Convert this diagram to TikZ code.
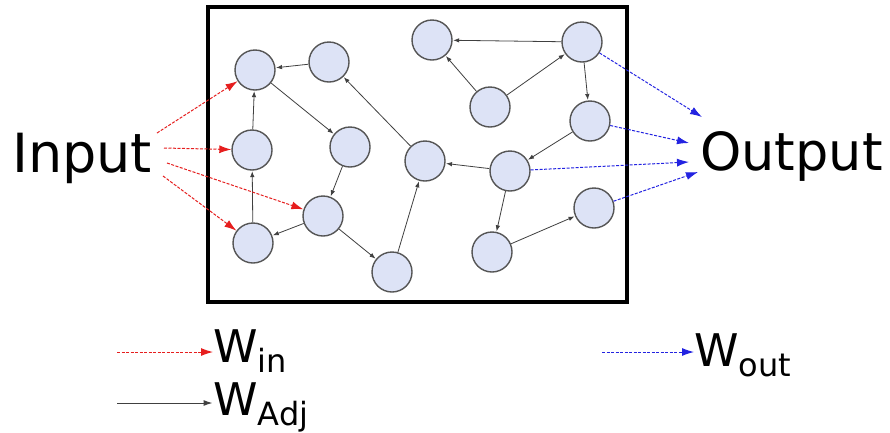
\documentclass[tikz,border=0pt]{standalone}
\usepackage{fontspec}
\setmainfont{DejaVu Sans}
\usetikzlibrary{arrows.meta}
\definecolor{nodefill}{RGB}{221,227,246}
\definecolor{nodeline}{RGB}{85,85,85}
\definecolor{inred}{RGB}{230,30,30}
\definecolor{outblue}{RGB}{35,35,225}
\tikzset{
  neuron/.style={circle, minimum size=40pt, inner sep=0pt, draw=nodeline, line width=1.4pt, fill=nodefill},
  adj/.style={draw=black!75, line width=0.8pt, -{Latex[length=6pt,width=4.5pt]}, shorten >=0.5pt},
  win/.style={draw=inred, line width=1pt, dash pattern=on 3pt off 1.5pt, -{Latex[length=12pt,width=8pt]}},
  wout/.style={draw=outblue, line width=1pt, dash pattern=on 3pt off 1.5pt, -{Latex[length=12pt,width=8pt]}},
  bigtext/.style={anchor=base west, inner sep=0pt, font=\fontsize{54}{60}\selectfont},
  legtext/.style={anchor=base west, inner sep=0pt, font=\fontsize{45}{50}\selectfont}
}
\newcommand{\legsub}[1]{\raisebox{-10pt}{\fontsize{32}{34}\selectfont #1}}
\begin{document}
\begin{tikzpicture}[x=1pt,y=-1pt]
\useasboundingbox (0,0) rectangle (890,432);
\fill[white] (0,0) rectangle (890,432);
\draw[line width=3.5pt] (208,7) rectangle (627,302);
% neurons
\node[neuron] (A) at (255,70) {};
\node[neuron] (B) at (329,62) {};
\node[neuron] (C) at (252,150) {};
\node[neuron] (D) at (350,147) {};
\node[neuron] (E) at (323,216) {};
\node[neuron] (F) at (253,243) {};
\node[neuron] (G) at (392,272) {};
\node[neuron] (H) at (425,161) {};
\node[neuron] (I) at (432,40) {};
\node[neuron] (J) at (490,107) {};
\node[neuron] (K) at (582,42) {};
\node[neuron] (L) at (590,121) {};
\node[neuron] (M) at (510,171) {};
\node[neuron] (N) at (594,208) {};
\node[neuron] (O) at (492,252) {};
% adjacency
\draw[adj] (B) -- (A);
\draw[adj] (C) -- (A);
\draw[adj] (A) -- (D);
\draw[adj] (D) -- (E);
\draw[adj] (E) -- (F);
\draw[adj] (F) -- (C);
\draw[adj] (E) -- (G);
\draw[adj] (G) -- (H);
\draw[adj] (H) -- (B);
\draw[adj] (J) -- (I);
\draw[adj] (K) -- (I);
\draw[adj] (J) -- (K);
\draw[adj] (K) -- (L);
\draw[adj] (L) -- (M);
\draw[adj] (M) -- (H);
\draw[adj] (M) -- (O);
\draw[adj] (O) -- (N);
% input / output
\node[bigtext] (in) at (12,172) {Input};
\node[bigtext, font=\fontsize{52.5}{60}\selectfont] (out) at (700,170) {Output};
\coordinate (i1) at (157,133);
\coordinate (i2) at (164,148);
\coordinate (i3) at (167,163);
\coordinate (i4) at (163,176);
\draw[win] (i1) -- (A);
\draw[win] (i2) -- (C);
\draw[win] (i3) -- (E);
\draw[win] (i4) -- (F);
\coordinate (o1) at (702,117);
\coordinate (o2) at (689,143);
\coordinate (o3) at (689,162);
\coordinate (o4) at (698,172);
\draw[wout] (K) -- (o1);
\draw[wout] (L) -- (o2);
\draw[wout] (M) -- (o3);
\draw[wout] (N) -- (o4);
% legend
\node[legtext] (lwin) at (213,362) {W\legsub{in}};
\node[legtext] (lwadj) at (213,415) {W\legsub{Adj}};
\node[legtext] (lwout) at (694,366) {W\legsub{out}};
\coordinate (l1a) at (117,352);
\coordinate (l1b) at (213,352);
\coordinate (l2a) at (117,403);
\coordinate (l2b) at (213,403);
\coordinate (l3a) at (602,352);
\coordinate (l3b) at (694,352);
\draw[win] (l1a) -- (l1b);
\draw[adj, line width=1pt, -{Latex[length=9pt,width=6pt]}] (l2a) -- (l2b);
\draw[wout] (l3a) -- (l3b);
\end{tikzpicture}
\end{document}
